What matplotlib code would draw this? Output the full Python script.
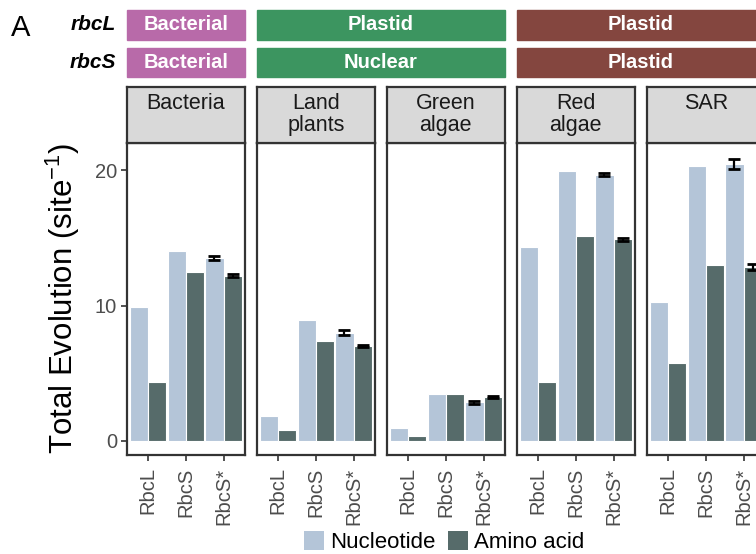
import numpy as np
import matplotlib.pyplot as plt
from matplotlib.patches import Rectangle, Patch

plt.rcParams['font.family'] = ['Liberation Sans', 'DejaVu Sans']
plt.rcParams['mathtext.default'] = 'regular'

# data
groups = ['Bacteria', 'Land\nplants', 'Green\nalgae', 'Red\nalgae', 'SAR']
genes = ['RbcL', 'RbcS', 'RbcS*']
nuc = [[9.9, 14.0, 13.5], [1.85, 8.9, 8.0], [0.95, 3.45, 2.85],
       [14.3, 19.9, 19.65], [10.25, 20.3, 20.45]]
aa = [[4.35, 12.45, 12.2], [0.8, 7.4, 7.0], [0.35, 3.45, 3.25],
      [4.35, 15.15, 14.9], [5.75, 13.0, 12.85]]
nuc_err = [[0, 0, 0.15], [0, 0, 0.2], [0, 0, 0.1], [0, 0, 0.1], [0, 0, 0.4]]
aa_err = [[0, 0, 0.1], [0, 0, 0.1], [0, 0, 0.1], [0, 0, 0.1], [0, 0, 0.2]]
rbcl_origin = [('Bacterial', 1), ('Plastid', 2), ('Plastid', 2)]
rbcs_origin = [('Bacterial', 1), ('Nuclear', 2), ('Plastid', 2)]
strip_colors = ['#B86AA9', '#3C9560', '#84463F']

nuc_col = '#B4C5D8'
aa_col = '#566B6A'
edge = '#333333'

W, H = 756, 554
fig = plt.figure(figsize=(W / 100, H / 100), dpi=100)

def fx(px):
    return px / W

def fy(py):
    return 1 - py / H

x0, pw, gap = 126.7, 118.3, 11.7
top, bot, strip_top = 143, 455, 87

x = np.arange(1, 4)
bw = 0.48
for i, g in enumerate(groups):
    left = x0 + i * (pw + gap)
    ax = fig.add_axes([fx(left), fy(bot), pw / W, (bot - top) / H])
    ax.bar(x - bw / 2, nuc[i], bw, color=nuc_col, edgecolor='white', linewidth=0.8, zorder=2)
    ax.bar(x + bw / 2, aa[i], bw, color=aa_col, edgecolor='white', linewidth=0.8, zorder=2)
    ax.errorbar(x[2] - bw / 2, nuc[i][2], yerr=nuc_err[i][2], fmt='none', ecolor='black',
                elinewidth=1.6, capsize=4.5, capthick=2, zorder=3)
    ax.errorbar(x[2] + bw / 2, aa[i][2], yerr=aa_err[i][2], fmt='none', ecolor='black',
                elinewidth=1.6, capsize=4.5, capthick=2, zorder=3)
    ax.set_xlim(0.43, 3.57)
    ax.set_ylim(-1.04, 22.0)
    ax.set_xticks(x)
    ax.set_xticklabels(genes, rotation=90)
    ax.tick_params(axis='x', length=4, width=1.2, color=edge, labelsize=14.5, labelcolor='#4D4D4D', pad=5)
    if i == 0:
        ax.set_yticks([0, 10, 20])
        ax.tick_params(axis='y', length=4, width=1.2, color=edge, labelsize=14.5, labelcolor='#4D4D4D', pad=3)
    else:
        ax.set_yticks([])
    for s in ax.spines.values():
        s.set_color(edge)
        s.set_linewidth(1.6)

    # facet strip
    sax = fig.add_axes([fx(left), fy(top), pw / W, (top - strip_top) / H])
    sax.set_facecolor('#D9D9D9')
    sax.set_xticks([])
    sax.set_yticks([])
    for s in sax.spines.values():
        s.set_color(edge)
        s.set_linewidth(1.6)
    sax.text(0.5, 0.9, g, transform=sax.transAxes, ha='center', va='top',
             fontsize=15.5, color='#1A1A1A', linespacing=1.1)

# origin strips for rbcL and rbcS
narrow = ['Liberation Sans Narrow', 'Liberation Sans', 'DejaVu Sans']
for row, (origins, y1, y2) in enumerate([(rbcl_origin, 10, 40), (rbcs_origin, 47.7, 77.3)]):
    k = 0
    for j, (lab, n) in enumerate(origins):
        left = x0 + k * (pw + gap)
        width = n * pw + (n - 1) * gap
        fig.patches.append(Rectangle((fx(left), fy(y2)), width / W, (y2 - y1) / H,
                                     transform=fig.transFigure, color=strip_colors[j], zorder=0))
        fig.text(fx(left + width / 2), fy((y1 + y2) / 2), lab, ha='center', va='center',
                 color='white', fontsize=14.5, fontweight='bold', family=narrow)
        k += n

fig.text(fx(116), fy(25), 'rbcL', ha='right', va='center', fontsize=15,
         fontweight='bold', fontstyle='italic')
fig.text(fx(116), fy(62.5), 'rbcS', ha='right', va='center', fontsize=15,
         fontweight='bold', fontstyle='italic')
fig.text(fx(11), fy(28.5), 'A', ha='left', va='center', fontsize=21)

fig.text(fx(63), fy(298.5), 'Total Evolution (site$^{-1}$)', rotation=90,
         ha='center', va='center', fontsize=22.5)

handles = [Patch(facecolor=nuc_col, label='Nucleotide'), Patch(facecolor=aa_col, label='Amino acid')]
fig.legend(handles=handles, loc='center', bbox_to_anchor=(fx(444), fy(542)), ncol=2,
           frameon=False, fontsize=16, handlelength=0.93, handleheight=0.95,
           handletextpad=0.26, columnspacing=0.54, borderaxespad=0, borderpad=0)

fig.savefig('out.png', dpi=100)
